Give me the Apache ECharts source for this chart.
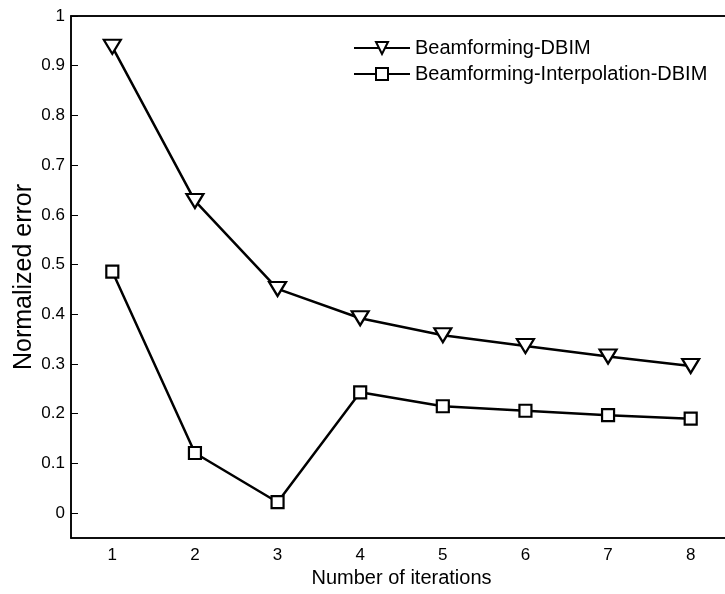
<!DOCTYPE html>
<html>
<head>
<meta charset="utf-8">
<script src="https://cdn.jsdelivr.net/npm/echarts@6/dist/echarts.min.js"></script>
<style>
    html, body { margin: 0; padding: 0; background: #fff; overflow: hidden; }
    #chart { width: 734px; height: 594px; }
</style>
</head>
<body>
<div id="chart"></div>
<script>
// iterations on the x axis
const iterations = ['1', '2', '3', '4', '5', '6', '7', '8']
// normalized error per iteration
const beamformingDbim = [0.938, 0.628, 0.451, 0.392, 0.358, 0.336, 0.315, 0.296]
const beamformingInterpDbim = [0.486, 0.121, 0.022, 0.243, 0.215, 0.206, 0.197, 0.190]
// y tick labels
const yTicks = [0, 0.1, 0.2, 0.3, 0.4, 0.5, 0.6, 0.7, 0.8, 0.9, 1]

const font = '"Liberation Sans", Arial, sans-serif'
const chart = echarts.init(document.getElementById('chart'))

const lineStyle = { color: '#000', width: 2.5 }
const tickStyle = { color: '#000', width: 1 }

const option = {
    animation: false,
    backgroundColor: '#fff',
    textStyle: { fontFamily: font, color: '#000' },
    grid: {
        left: 71,
        top: 16,
        right: 2,
        bottom: 56,
        outerBoundsMode: 'none',
        containLabel: false,
        show: true,
        borderColor: '#000',
        borderWidth: 1.5
    },
    legend: {
        orient: 'vertical',
        left: 353,
        top: 38,
        padding: 0,
        itemWidth: 56,
        itemHeight: 15,
        itemGap: 6,
        textStyle: { fontSize: 20, color: '#000', fontFamily: font },
        data: ['Beamforming-DBIM', 'Beamforming-Interpolation-DBIM']
    },
    xAxis: [
        {
            type: 'category',
            data: iterations,
            boundaryGap: true,
            name: 'Number of iterations',
            nameLocation: 'middle',
            nameGap: 30,
            nameMoveOverlap: false,
            nameTextStyle: { fontSize: 20, color: '#000', fontFamily: font },
            axisLine: { onZero: false, lineStyle: { color: '#000', width: 1.5 } },
            axisTick: { inside: true, alignWithLabel: true, length: 7, lineStyle: tickStyle },
            axisLabel: { fontSize: 17, color: '#000', margin: 9, fontFamily: font },
            splitLine: { show: false }
        },
        {
            type: 'category',
            data: iterations,
            position: 'top',
            boundaryGap: true,
            axisLine: { onZero: false, lineStyle: { color: '#000', width: 1.5 } },
            axisTick: { inside: true, alignWithLabel: true, length: 7, lineStyle: tickStyle },
            axisLabel: { show: false },
            splitLine: { show: false }
        }
    ],
    yAxis: [
        {
            type: 'value',
            min: -0.05,
            max: 1,
            name: 'Normalized error',
            nameLocation: 'middle',
            nameRotate: 90,
            nameGap: 34,
            nameMoveOverlap: false,
            nameTextStyle: { fontSize: 25, color: '#000', fontFamily: font },
            axisLine: { show: true, lineStyle: { color: '#000', width: 1.5 } },
            axisTick: { show: true, inside: true, length: 7, lineStyle: tickStyle, customValues: yTicks },
            axisLabel: {
                fontSize: 17, color: '#000', margin: 6, fontFamily: font,
                customValues: yTicks,
                formatter: v => String(Math.round(v * 10) / 10)
            },
            splitLine: { show: false }
        },
        {
            type: 'value',
            min: -0.05,
            max: 1,
            position: 'right',
            axisLine: { show: true, lineStyle: { color: '#000', width: 1.5 } },
            axisTick: { show: true, inside: true, length: 7, lineStyle: tickStyle, customValues: yTicks },
            axisLabel: { show: false },
            splitLine: { show: false }
        }
    ],
    series: [
        {
            name: 'Beamforming-DBIM',
            type: 'line',
            data: beamformingDbim,
            symbol: 'triangle',
            symbolRotate: 180,
            symbolSize: [17, 14],
            showAllSymbol: true,
            lineStyle: lineStyle,
            itemStyle: { color: '#fff', borderColor: '#000', borderWidth: 2.2 },
            z: 3
        },
        {
            name: 'Beamforming-Interpolation-DBIM',
            type: 'line',
            data: beamformingInterpDbim,
            symbol: 'rect',
            symbolSize: 12,
            showAllSymbol: true,
            lineStyle: lineStyle,
            itemStyle: { color: '#fff', borderColor: '#000', borderWidth: 2.2 },
            z: 3
        }
    ]
}

chart.setOption(option)
</script>
</body>
</html>
